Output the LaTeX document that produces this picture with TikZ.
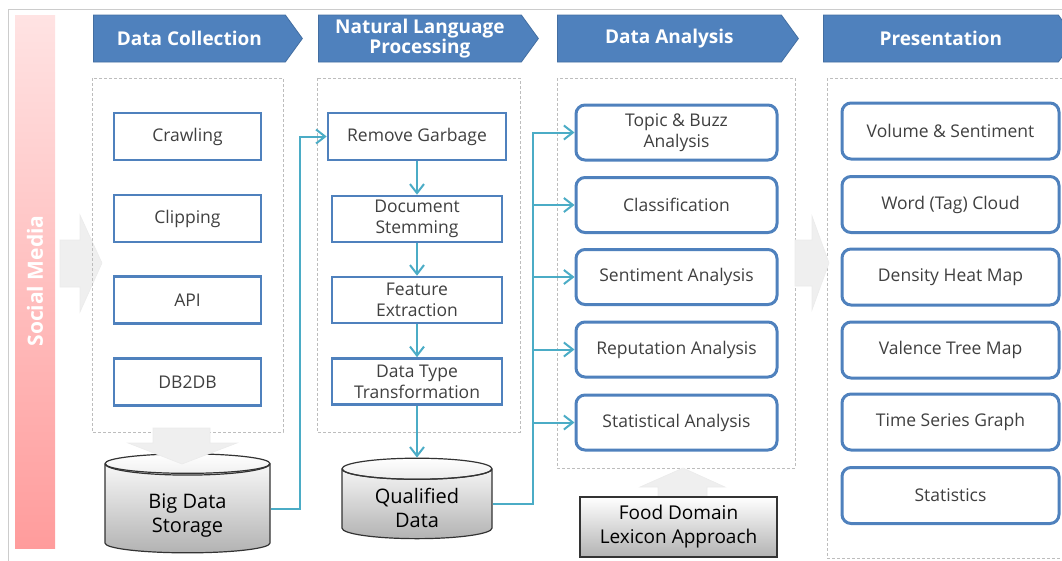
\documentclass[tikz,border=0pt]{standalone}
\usepackage{fontspec}
\setmainfont{Open Sans}
\usetikzlibrary{shapes, shapes.geometric, shapes.symbols, arrows.meta, calc}

\definecolor{headblue}{HTML}{4F81BD}
\definecolor{flowcyan}{HTML}{4BACC6}
\definecolor{labelgray}{HTML}{404040}
\definecolor{dashgray}{HTML}{BDBDBD}
\definecolor{blockgray}{HTML}{EFEFEF}
\definecolor{socialtop}{HTML}{FFE3E3}
\definecolor{socialbottom}{HTML}{FF9C9C}

\tikzset{
	header/.style={signal, signal to=east, signal pointer angle=108, fill=headblue, draw=headblue!85!black, line width=0.8, text=white, font=\bfseries\fontsize{19}{20}\selectfont, minimum height=47, inner sep=0, align=center, anchor=west},
	sourcebox/.style={draw=headblue, line width=2.6, fill=white, text=labelgray, font=\fontsize{17.5}{21}\selectfont, align=center, inner sep=0},
	resultbox/.style={sourcebox, rounded corners=9, line width=3},
	store/.style={cylinder, shape border rotate=90, draw=black!80, line width=1.2, top color=white, bottom color=black!30, font=\fontsize{20}{24}\selectfont, align=center, inner sep=0},
	flow/.style={draw=flowcyan, line width=2, -{Straight Barb[length=9pt,width=14pt]}},
	stage/.style={draw=dashgray, line width=0.8, dash pattern=on 3pt off 2pt},
	block/.style={fill=blockgray, draw=black!8, line width=0.6}
}

\begin{document}
\begin{tikzpicture}[x=1pt, y=-1pt]
	\useasboundingbox (0,0) rectangle (1062,560);
	%Frame
		\draw[black!20, line width=1] (8,9) rectangle (1080,580);
	%Social Media
		\shade[top color=socialtop, bottom color=socialbottom] (15,15) rectangle (55,548);
		\node[rotate=90, text=white, font=\bfseries\fontsize{21}{21}\selectfont] (social) at (35,281) {Social Media};
		\filldraw[block] (60,240) -- (80,240) -- (80,215) -- (102,263) -- (80,312) -- (80,287) -- (60,287) -- cycle;
	%Headers
		\node[header, minimum width=209] (hcollect) at (93,38.5) {Data Collection};
		\node[header, minimum width=220] (hnlp) at (318,38.5) {Natural Language\\Processing};
		\node[header, minimum width=241] (hanalysis) at (557,38.5) {Data Analysis};
		\node[header, minimum width=252] (hpresent) at (823,38.5) {Presentation};
	%Stages
		\draw[stage] (92,78) rectangle (283,432);
		\draw[stage] (317,78) rectangle (520,432);
		\draw[stage] (557,78) rectangle (795,468);
		\draw[stage] (827,78) rectangle (1075,558);
	%Data Collection
		\node[sourcebox, minimum width=147, minimum height=47] (crawling) at (187.5,136.5) {Crawling};
		\node[sourcebox, minimum width=147, minimum height=47] (clipping) at (187.5,218.5) {Clipping};
		\node[sourcebox, minimum width=147, minimum height=47] (api) at (187.5,300) {API};
		\node[sourcebox, minimum width=147, minimum height=47] (dbtodb) at (187.5,382) {DB2DB};
	%Big Data Storage
		\node[store, minimum width=165, minimum height=99, aspect=0.25] (bigdata) at (187.5,508.5) {\\[4pt]Big Data\\Storage};
		\draw[black!80, line width=1.2] ($(bigdata.before top)!0.5!(bigdata.after top)$) ++(-82.5,0) arc[start angle=180, end angle=0, x radius=82.5, y radius=11.5];
		\filldraw[block] (153,428) -- (210,428) -- (210,443) -- (237,443) -- (182,464) -- (128,443) -- (153,443) -- cycle;
	%Natural Language Processing
		\node[sourcebox, minimum width=178, minimum height=47] (garbage) at (417,136.5) {Remove Garbage};
		\node[sourcebox, minimum width=170, minimum height=46] (stemming) at (417,219) {Document\\Stemming};
		\node[sourcebox, minimum width=170, minimum height=46] (feature) at (417,300) {Feature\\Extraction};
		\node[sourcebox, minimum width=170, minimum height=46] (datatype) at (417,381.5) {Data Type\\Transformation};
		\draw[flow] (garbage) -- (stemming);
		\draw[flow] (stemming) -- (feature);
		\draw[flow] (feature) -- (datatype);
	%Qualified Data
		\node[store, minimum width=150, minimum height=72, aspect=0.25] (qualified) at (417,504) {\\Qualified\\Data};
		\draw[black!80, line width=1.2] ($(qualified.before top)!0.5!(qualified.after top)$) ++(-75,0) arc[start angle=180, end angle=0, x radius=75, y radius=10.5];
		\draw[flow] (datatype) -- (qualified.north);
	%Big Data Storage->Remove Garbage
		\coordinate (upline) at (300,0);
		\draw[flow] (bigdata.east) -| (upline |- garbage.west) -- (garbage.west);
	%Data Analysis
		\node[resultbox, minimum width=201, minimum height=55] (topic) at (676.5,132.5) {Topic \& Buzz\\Analysis};
		\node[resultbox, minimum width=201, minimum height=55] (classify) at (676.5,205) {Classification};
		\node[resultbox, minimum width=201, minimum height=55] (sentiment) at (676.5,277) {Sentiment Analysis};
		\node[resultbox, minimum width=201, minimum height=55] (reputation) at (676.5,349.5) {Reputation Analysis};
		\node[resultbox, minimum width=201, minimum height=55] (statistical) at (676.5,422.5) {Statistical Analysis};
	%Qualified Data->Data Analysis
		\coordinate (bus) at (533,0);
		\draw[flow] (qualified.east) -| (bus |- topic.west) -- (topic.west);
		\draw[flow] (bus |- classify.west) -- (classify.west);
		\draw[flow] (bus |- sentiment.west) -- (sentiment.west);
		\draw[flow] (bus |- reputation.west) -- (reputation.west);
		\draw[flow] (bus |- statistical.west) -- (statistical.west);
	%Food Domain Lexicon Approach
		\filldraw[block] (658,500) -- (658,487) -- (640,487) -- (683,468) -- (725,487) -- (707,487) -- (707,500) -- cycle;
		\node[draw=black!80, line width=1.2, top color=white, bottom color=black!30, minimum width=197, minimum height=60, inner sep=0, align=center, font=\fontsize{19}{24}\selectfont] (lexicon) at (678.5,527) {Food Domain\\Lexicon Approach};
	%Data Analysis->Presentation
		\filldraw[block] (795,240) -- (812,240) -- (812,216) -- (829,263) -- (812,310) -- (812,286) -- (795,286) -- cycle;
	%Presentation
		\node[resultbox, minimum width=217, minimum height=56] (volume) at (950.5,131) {Volume \& Sentiment};
		\node[resultbox, minimum width=217, minimum height=56] (cloud) at (950.5,204.5) {Word (Tag) Cloud};
		\node[resultbox, minimum width=217, minimum height=56] (heatmap) at (950.5,277) {Density Heat Map};
		\node[resultbox, minimum width=217, minimum height=56] (treemap) at (950.5,350) {Valence Tree Map};
		\node[resultbox, minimum width=217, minimum height=56] (timeseries) at (950.5,422) {Time Series Graph};
		\node[resultbox, minimum width=217, minimum height=56] (statistics) at (950.5,495.5) {Statistics};
\end{tikzpicture}
\end{document}
